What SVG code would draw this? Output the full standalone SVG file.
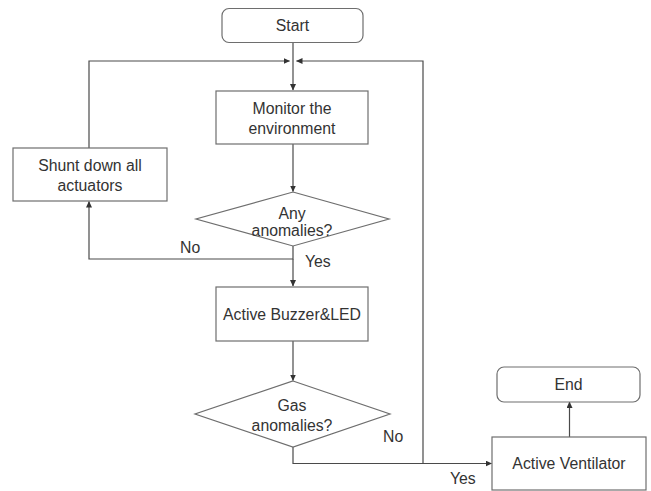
<svg xmlns="http://www.w3.org/2000/svg" width="651" height="491" viewBox="0 0 651 491">
  <style>
    .box { fill: #ffffff; stroke: #6e6e6e; stroke-width: 1.2; }
    .line { fill: none; stroke: #4a4a4a; stroke-width: 1.2; }
    .lbl { font-family: "Liberation Sans", Arial, sans-serif; font-size: 15.8px; fill: #333333; text-anchor: middle; dominant-baseline: central; }
    .tag { font-family: "Liberation Sans", Arial, sans-serif; font-size: 15.8px; fill: #333333; }
  </style>
  <defs>
    <marker id="arrow" markerWidth="7" markerHeight="6" refX="6" refY="3" orient="auto" markerUnits="userSpaceOnUse">
      <path d="M0,0 L6.5,3 L0,6 Z" fill="#333333"/>
    </marker>
  </defs>

  <rect width="651" height="491" fill="#ffffff"/>

  <g id="connectors">
    <!-- Start down to merge point, then into Monitor -->
    <line class="line" x1="293" y1="43" x2="293" y2="90" marker-end="url(#arrow)"/>
    <!-- Monitor to decision -->
    <line class="line" x1="293" y1="144" x2="293" y2="191.5" marker-end="url(#arrow)"/>
    <!-- No branch: back to shunt -->
    <polyline class="line" points="293,246 293,259 89,259 89,201.5" marker-end="url(#arrow)"/>
    <!-- Shunt loops back to top -->
    <polyline class="line" points="89,148 89,61 289.5,61" marker-end="url(#arrow)"/>
    <!-- Yes branch: to Buzzer -->
    <line class="line" x1="293" y1="259" x2="293" y2="286" marker-end="url(#arrow)"/>
    <!-- Buzzer to gas decision -->
    <line class="line" x1="293" y1="341" x2="293" y2="380.5" marker-end="url(#arrow)"/>
    <!-- Gas decision to ventilator -->
    <polyline class="line" points="293,447 293,463.5 491.5,463.5" marker-end="url(#arrow)"/>
    <!-- No branch loops back to top -->
    <polyline class="line" points="423,463.5 423,61 296.5,61" marker-end="url(#arrow)"/>
    <!-- Ventilator to End -->
    <line class="line" x1="569.5" y1="437" x2="569.5" y2="402" marker-end="url(#arrow)"/>
  </g>

  <g id="start">
    <rect class="box" x="222" y="8.5" width="141" height="34" rx="7"/>
    <text class="lbl" x="292.5" y="25.5">Start</text>
  </g>

  <g id="monitor">
    <rect class="box" x="216" y="91" width="152" height="53"/>
    <text class="lbl" x="292" y="108.5">Monitor the</text>
    <text class="lbl" x="292" y="128.5">environment</text>
  </g>

  <g id="shunt">
    <rect class="box" x="13" y="148" width="154" height="53"/>
    <text class="lbl" x="90" y="165">Shunt down all</text>
    <text class="lbl" x="90" y="185">actuators</text>
  </g>

  <g id="any-anomalies">
    <polygon class="box" points="293,192 389,219 293,246 196,219"/>
    <text class="lbl" x="292" y="213">Any</text>
    <text class="lbl" x="292" y="230">anomalies?</text>
  </g>

  <g id="buzzer">
    <rect class="box" x="216" y="287" width="152" height="54"/>
    <text class="lbl" x="292" y="314">Active Buzzer&amp;LED</text>
  </g>

  <g id="gas-anomalies">
    <polygon class="box" points="293,381 390,414 293,447 195,414"/>
    <text class="lbl" x="292" y="405">Gas</text>
    <text class="lbl" x="292" y="425.5">anomalies?</text>
  </g>

  <g id="ventilator">
    <rect class="box" x="492" y="437" width="154" height="53"/>
    <text class="lbl" x="569" y="463.5">Active Ventilator</text>
  </g>

  <g id="end">
    <rect class="box" x="497" y="367" width="143" height="35" rx="7"/>
    <text class="lbl" x="568.5" y="384.5">End</text>
  </g>

  <g id="labels">
    <text class="tag" x="180" y="253">No</text>
    <text class="tag" x="305" y="267">Yes</text>
    <text class="tag" x="383" y="442">No</text>
    <text class="tag" x="450" y="484">Yes</text>
  </g>
</svg>
